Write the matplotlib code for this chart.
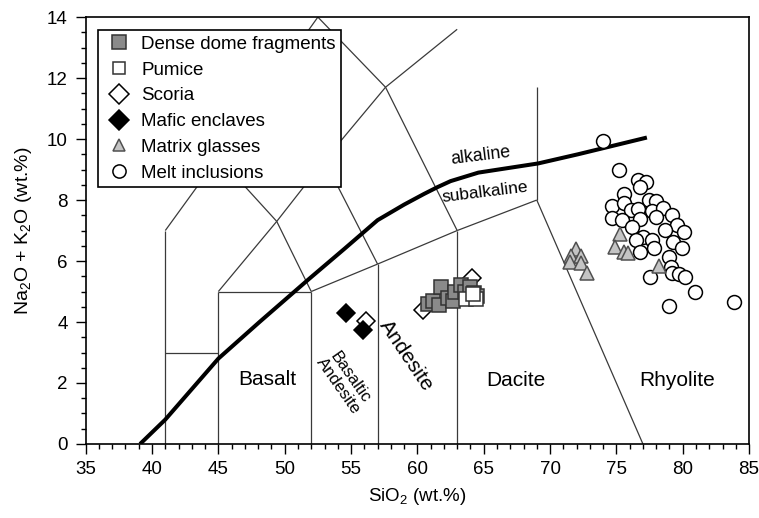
import matplotlib
matplotlib.use("Agg")
import matplotlib.pyplot as plt
from matplotlib.lines import Line2D
from matplotlib.ticker import MultipleLocator

plt.rcParams['font.family'] = ['Liberation Sans', 'DejaVu Sans']
plt.rcParams['mathtext.fontset'] = 'custom'
plt.rcParams['mathtext.rm'] = 'Liberation Sans'
plt.rcParams['mathtext.it'] = 'Liberation Sans:italic'

# ---- sample compositions: SiO2 (wt.%) and Na2O+K2O (wt.%) ----
dome_si = [60.8, 61.2, 61.6, 61.8, 62.3, 62.7, 62.8, 63.3, 63.6, 64.0, 64.3, 64.5]
dome_alk = [4.60, 4.70, 4.55, 5.15, 4.80, 4.70, 5.00, 5.20, 5.00, 5.15, 4.95, 4.85]

pumice_si = [63.7, 64.4, 64.2]
pumice_alk = [4.74, 4.74, 4.92]

scoria_si = [60.4, 64.1, 56.1]
scoria_alk = [4.39, 5.45, 4.04]

enclave_si = [54.6, 55.9]
enclave_alk = [4.29, 3.74]

glass_si = [71.95, 71.55, 72.3, 71.5, 72.3, 72.76, 75.3, 74.9, 75.6, 75.9, 78.2]
glass_alk = [6.38, 6.16, 6.16, 5.98, 5.94, 5.60, 6.90, 6.45, 6.30, 6.25, 5.85]

melt_si = [74.0, 75.2, 76.65, 77.2, 76.8, 75.6, 77.45, 77.95, 74.7, 75.6,
           76.1, 76.6, 77.7, 78.5, 74.7, 75.45, 76.8, 77.95, 79.2, 79.6,
           76.2, 78.7, 80.1, 77.0, 77.7, 76.45, 79.3, 79.95, 77.8, 76.8,
           78.95, 79.1, 79.2, 79.7, 80.2, 77.5, 80.95, 79.0, 83.85]
melt_alk = [9.94, 8.98, 8.66, 8.60, 8.44, 8.20, 8.00, 7.97, 7.80, 7.89,
            7.67, 7.69, 7.65, 7.73, 7.42, 7.34, 7.37, 7.45, 7.50, 7.18,
            7.12, 7.02, 6.96, 6.80, 6.69, 6.69, 6.63, 6.42, 6.42, 6.30,
            6.14, 5.81, 5.62, 5.57, 5.48, 5.46, 4.99, 4.53, 4.66]

# ---- alkaline / subalkaline divide ----
divide_si = [39.1, 41.0, 45.0, 48.1, 51.8, 54.5, 57.0, 59.0, 60.5, 61.5,
             62.5, 64.6, 69.1, 72.1, 77.3]
divide_alk = [0.0, 0.8, 2.8, 4.0, 5.4, 6.4, 7.34, 7.85, 8.2, 8.42,
              8.62, 8.9, 9.2, 9.5, 10.05]

# ---- TAS field boundaries (SiO2, alkali) pairs ----
tas_segments = [
    [(41, 0), (41, 7)],
    [(41, 3), (45, 3)],
    [(45, 0), (45, 5)],
    [(45, 5), (52, 5)],
    [(52, 0), (52, 5)],
    [(52, 5), (57, 5.9)],
    [(57, 0), (57, 5.9)],
    [(57, 5.9), (63, 7)],
    [(63, 0), (63, 7)],
    [(63, 7), (69, 8)],
    [(69, 8), (77, 0)],
    [(69, 8), (69, 11.7)],
    [(45, 5), (49.4, 7.3)],
    [(49.4, 7.3), (52, 5)],
    [(49.4, 7.3), (53, 9.3)],
    [(53, 9.3), (57, 5.9)],
    [(53, 9.3), (57.6, 11.7)],
    [(57.6, 11.7), (63, 7)],
    [(41, 7), (45, 9.4)],
    [(45, 9.4), (49.4, 7.3)],
    [(45, 9.4), (48.4, 11.5)],
    [(48.4, 11.5), (53, 9.3)],
    [(48.4, 11.5), (52.5, 14)],
    [(52.5, 14), (57.6, 11.7)],
    [(57.6, 11.7), (63, 13.6)],
]

fig = plt.figure(figsize=(7.59, 5.18), dpi=100)
ax = fig.add_axes([0.1129, 0.1429, 0.8740, 0.8241])

for seg in tas_segments:
    xs, ys = zip(*seg)
    ax.plot(xs, ys, color='#3a3a3a', lw=0.9, zorder=1, solid_capstyle='butt')

ax.plot(divide_si, divide_alk, color='black', lw=2.9, zorder=2,
        solid_joinstyle='round', solid_capstyle='butt')

ew = 1.1
ax.plot(melt_si, melt_alk, 'o', ms=10, mfc='white', mec='black', mew=ew, zorder=3)
ax.plot(glass_si, glass_alk, '^', ms=9.5, mfc='#c4c4c4', mec='#505050', mew=ew, zorder=4)
ax.plot(scoria_si, scoria_alk, 'D', ms=9.5, mfc='white', mec='black', mew=ew, zorder=4)
ax.plot(enclave_si, enclave_alk, 'D', ms=9.5, mfc='black', mec='black', mew=ew, zorder=4)
ax.plot(dome_si, dome_alk, 's', ms=9.5, mfc='#8a8a8a', mec='#333333', mew=ew, zorder=5)
ax.plot(pumice_si, pumice_alk, 's', ms=9.5, mfc='white', mec='#333333', mew=ew, zorder=6)

# field names
fs = 15
ax.text(48.7, 2.1, 'Basalt', fontsize=fs, ha='center', va='center')
ax.text(54.45, 2.05, 'Basaltic\nAndesite', fontsize=12, ha='center', va='center',
        rotation=-55, linespacing=0.95)
ax.text(59.2, 2.9, 'Andesite', fontsize=fs, ha='center', va='center', rotation=-56)
ax.text(67.4, 2.07, 'Dacite', fontsize=fs, ha='center', va='center')
ax.text(79.6, 2.07, 'Rhyolite', fontsize=fs, ha='center', va='center')
ax.text(64.8, 9.45, 'alkaline', fontsize=12.8, ha='center', va='center', rotation=7)
ax.text(65.1, 8.25, 'subalkaline', fontsize=12.4, ha='center', va='center', rotation=7)

ax.set_xlim(35, 85)
ax.set_ylim(0, 14)
ax.xaxis.set_major_locator(MultipleLocator(5))
ax.xaxis.set_minor_locator(MultipleLocator(1))
ax.yaxis.set_major_locator(MultipleLocator(2))
ax.yaxis.set_minor_locator(MultipleLocator(0.5))
ax.tick_params(which='both', direction='out', top=False, right=False,
               width=1.0, color='black')
ax.tick_params(which='major', length=7, labelsize=13.5)
ax.tick_params(axis='x', which='major', pad=5)
ax.tick_params(axis='y', which='major', pad=6)
ax.tick_params(which='minor', length=3.5)
for sp in ax.spines.values():
    sp.set_linewidth(1.2)
    sp.set_color('black')

ax.set_xlabel(r'SiO$_2$ (wt.%)', fontsize=13.5, labelpad=6)
ax.set_ylabel(r'Na$_2$O + K$_2$O (wt.%)', fontsize=14, labelpad=9)

handles = [
    Line2D([], [], ls='none', marker='s', ms=9.5, mfc='#8a8a8a', mec='#333333', mew=ew),
    Line2D([], [], ls='none', marker='s', ms=8.5, mfc='white', mec='#333333', mew=ew),
    Line2D([], [], ls='none', marker='D', ms=10, mfc='white', mec='black', mew=ew),
    Line2D([], [], ls='none', marker='D', ms=10, mfc='black', mec='black', mew=ew),
    Line2D([], [], ls='none', marker='^', ms=9, mfc='#c4c4c4', mec='#505050', mew=ew),
    Line2D([], [], ls='none', marker='o', ms=9.5, mfc='white', mec='black', mew=ew),
]
labels = ['Dense dome fragments', 'Pumice', 'Scoria', 'Mafic enclaves',
          'Matrix glasses', 'Melt inclusions']
leg = ax.legend(handles, labels, loc='upper left', bbox_to_anchor=(0.0185, 0.9696),
                borderaxespad=0, fontsize=13.5, frameon=True, fancybox=False,
                edgecolor='black', framealpha=1, borderpad=0.3,
                labelspacing=0.46, handlelength=1.6, handletextpad=0.4)
leg.get_frame().set_linewidth(1.2)
leg.set_zorder(10)

fig.savefig('out.png', dpi=100)
